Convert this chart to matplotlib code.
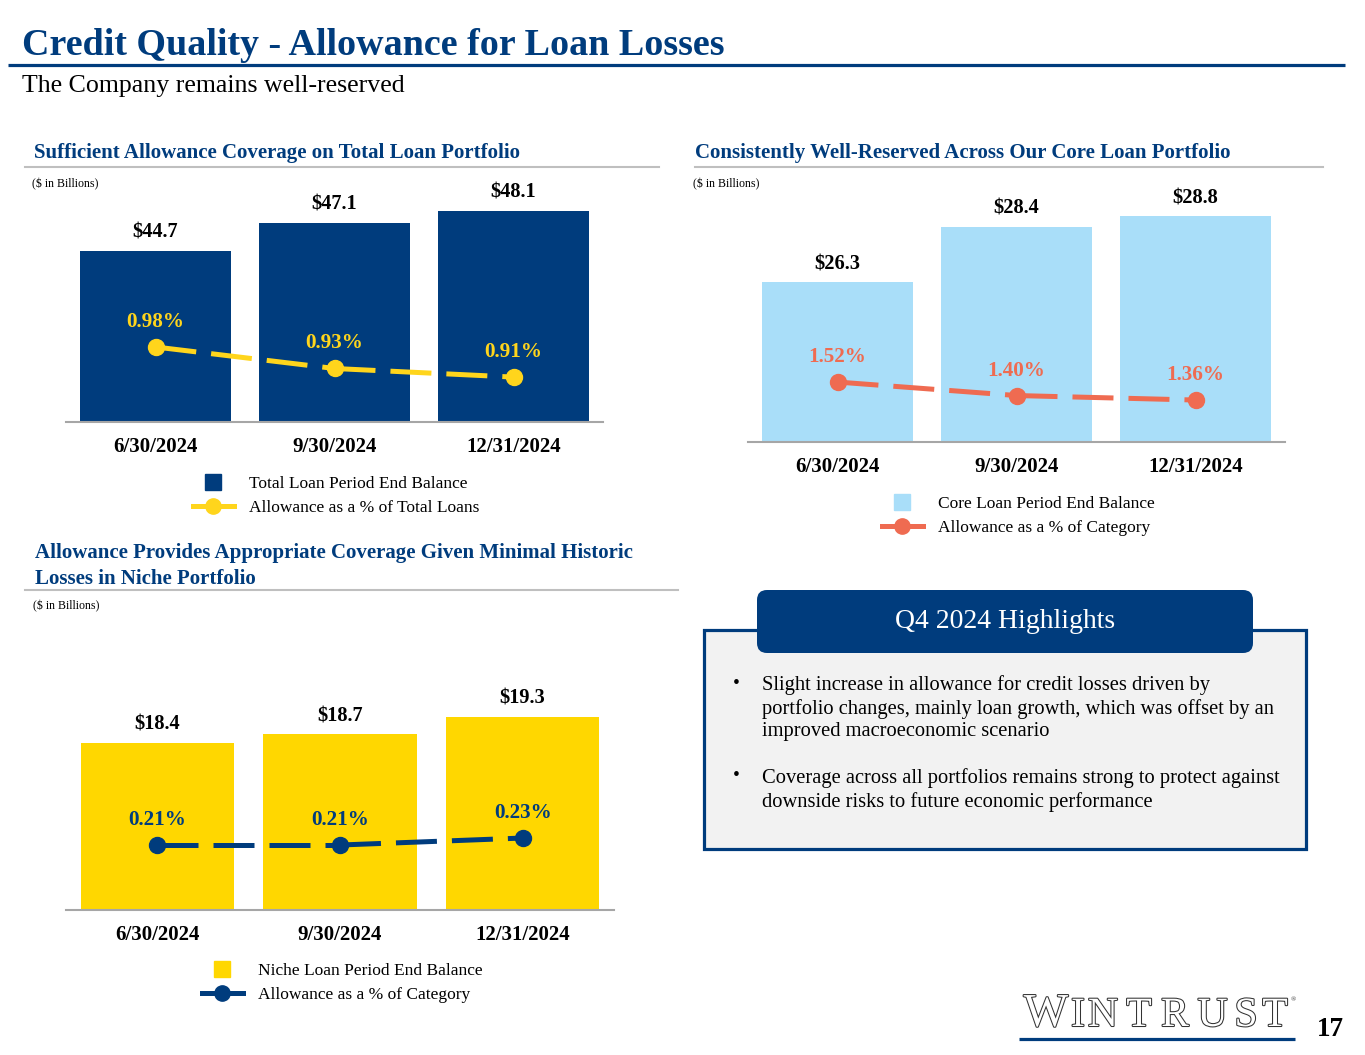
import matplotlib
matplotlib.use("Agg")
import matplotlib.pyplot as plt
from matplotlib.lines import Line2D
from matplotlib.patches import Rectangle, FancyBboxPatch
import matplotlib.patheffects as pe

plt.rcParams["font.family"] = ["Liberation Serif", "DejaVu Serif"]

# ---------------------------------------------------------------------------
# Data
# ---------------------------------------------------------------------------
dates = ["6/30/2024", "9/30/2024", "12/31/2024"]

total_bal = [44.7, 47.1, 48.1]
total_pct = [0.98, 0.93, 0.91]

core_bal = [26.3, 28.4, 28.8]
core_pct = [1.52, 1.40, 1.36]

niche_bal = [18.4, 18.7, 19.3]
niche_pct = [0.21, 0.21, 0.23]

highlights = [
    "Slight increase in allowance for credit losses driven by\n"
    "portfolio changes, mainly loan growth, which was offset by an\n"
    "improved macroeconomic scenario",
    "Coverage across all portfolios remains strong to protect against\n"
    "downside risks to future economic performance",
]

NAVY = "#003C7D"
YELLOW = "#FFD51C"
GOLD = "#FFD700"
LIGHTBLUE = "#A9DEF9"
CORAL = "#EF6B51"
GREY = "#A6A6A6"

W, H = 1365, 1055
fig = plt.figure(figsize=(W / 100, H / 100), dpi=100)

# full-figure overlay in pixel coordinates for the slide furniture
bg = fig.add_axes([0, 0, 1, 1], zorder=0)
bg.set_xlim(0, W)
bg.set_ylim(H, 0)
bg.axis("off")


def px_axes(x0, y0, x1, y1):
    return fig.add_axes([x0 / W, 1 - y1 / H, (x1 - x0) / W, (y1 - y0) / H], zorder=2)


# ---------------------------------------------------------------------------
# Header
# ---------------------------------------------------------------------------
bg.text(22, 55, "Credit Quality - Allowance for Loan Losses", fontsize=27.4,
        fontweight="bold", color=NAVY, va="baseline")
bg.plot([8, 1345], [64.5, 64.5], color=NAVY, lw=2.3, solid_capstyle="butt")
bg.text(22, 92, "The Company remains well-reserved", fontsize=18.6, va="baseline")


def section(x, y, text, line_x0, line_x1, line_y, note_y):
    # va="baseline" on multi-line text anchors the last line
    bg.text(x, y, text, fontsize=15, fontweight="bold", color=NAVY, va="baseline",
            linespacing=1.4)
    bg.plot([line_x0, line_x1], [line_y, line_y], color="#BFBFBF", lw=1.5)
    bg.text(x - 2, note_y, "($ in Billions)", fontsize=8.6, va="center")


section(34, 158, "Sufficient Allowance Coverage on Total Loan Portfolio", 25, 659, 166.5, 184)
section(695, 158, "Consistently Well-Reserved Across Our Core Loan Portfolio", 695, 1323, 166.5, 184)
section(35, 584, "Allowance Provides Appropriate Coverage Given Minimal Historic\n"
        "Losses in Niche Portfolio", 25, 678, 590, 606)


# ---------------------------------------------------------------------------
# Charts
# ---------------------------------------------------------------------------
def combo_chart(box, bal, pct, ylim, ylim2, bar_color, line_color, pct_color,
                bar_label, line_label, legend_xy):
    ax = px_axes(*box)
    x = list(range(len(dates)))
    ax.bar(x, bal, width=0.84, color=bar_color, zorder=1)
    ax.set_xlim(-0.5, 2.5)
    ax.set_ylim(*ylim)
    for xi, v in zip(x, bal):
        ax.annotate(f"${v:.1f}", (xi, v), xytext=(0, 13), textcoords="offset points",
                    ha="center", va="center", fontsize=14.7, fontweight="bold")
    ax.set_xticks(x)
    ax.set_xticklabels(dates, fontsize=15, fontweight="bold")
    ax.tick_params(axis="x", length=0, pad=11)
    ax.set_yticks([])
    for s in ["top", "left", "right"]:
        ax.spines[s].set_visible(False)
    ax.spines["bottom"].set_color(GREY)
    ax.spines["bottom"].set_linewidth(1.5)
    ax.patch.set_visible(False)

    ax2 = ax.twinx()
    # each segment restarts its dash pattern at the marker, as in the slide
    for i in range(len(x) - 1):
        ax2.plot(x[i:i + 2], pct[i:i + 2], color=line_color, lw=3.6,
                 dashes=(8.2, 3.0), zorder=3)
    ax2.plot(x, pct, ls="none", marker="o", ms=11.5, mfc=line_color,
             mec=line_color, zorder=4)
    ax2.set_ylim(*ylim2)
    for xi, p in zip(x, pct):
        ax2.annotate(f"{p:.2f}%", (xi, p), xytext=(0, 18), textcoords="offset points",
                     ha="center", va="center", fontsize=15.2, fontweight="bold",
                     color=pct_color)
    ax2.axis("off")

    handles = [
        Line2D([], [], marker="s", ms=12, ls="none", color=bar_color),
        Line2D([], [], color=line_color, lw=3.6, marker="o", ms=11),
    ]
    fig.legend(handles, [bar_label, line_label], loc="upper left",
               bbox_to_anchor=(legend_xy[0] / W, 1 - legend_xy[1] / H),
               frameon=False, fontsize=12.5, handlelength=2.36, handletextpad=0.85,
               labelspacing=0.45, borderpad=0, borderaxespad=0)
    return ax


combo_chart((66, 190, 603, 422), total_bal, total_pct, (30.16, 49.89), (0.8056, 1.345),
            NAVY, YELLOW, YELLOW, "Total Loan Period End Balance",
            "Allowance as a % of Total Loans", (193, 476))
combo_chart((748, 190, 1285, 442), core_bal, core_pct, (20.24, 29.79), (0.987, 3.227),
            LIGHTBLUE, CORAL, CORAL, "Core Loan Period End Balance",
            "Allowance as a % of Category", (882, 496))
combo_chart((66, 640, 614, 910), niche_bal, niche_pct, (12.62, 21.96), (0.0243, 0.796),
            GOLD, NAVY, NAVY, "Niche Loan Period End Balance",
            "Allowance as a % of Category", (202, 963))

# ---------------------------------------------------------------------------
# Highlights box
# ---------------------------------------------------------------------------
bg.add_patch(Rectangle((704, 630), 602, 219, facecolor="#F2F2F2", edgecolor=NAVY,
                       lw=2.3, zorder=1))
bg.add_patch(FancyBboxPatch((767, 600), 476, 43, boxstyle="round,pad=10",
                            facecolor=NAVY, edgecolor=NAVY, lw=0, zorder=2))
bg.text(1005, 622, "Q4 2024 Highlights", fontsize=20, color="white", ha="center",
        va="center", zorder=3)
for y, txt in zip([683, 776], highlights):
    bg.text(733, y, "•", fontsize=14, va="center", zorder=3)
    bg.text(762, y - 8, txt, fontsize=14.8, va="top", linespacing=1.26, zorder=3)

# ---------------------------------------------------------------------------
# Logo and page number
# ---------------------------------------------------------------------------
outline = [pe.withStroke(linewidth=1.5, foreground="#333333")]
bg.text(1046, 1026, "W", fontsize=34, color="white", ha="center", va="baseline",
        path_effects=outline)
for ch, cx in zip("INTRUST", [1078, 1103, 1139, 1175, 1212.5, 1246, 1275]):
    bg.text(cx, 1026, ch, fontsize=30, color="white", ha="center", va="baseline",
            path_effects=outline)
bg.text(1293, 1000, "®", fontsize=5, color="#333333", ha="center", va="center")
bg.plot([1019, 1295], [1038.5, 1038.5], color=NAVY, lw=2.3, solid_capstyle="butt")
bg.text(1317, 1036, "17", fontsize=19.5, fontweight="bold", va="baseline")

fig.savefig("out.png", dpi=100)
